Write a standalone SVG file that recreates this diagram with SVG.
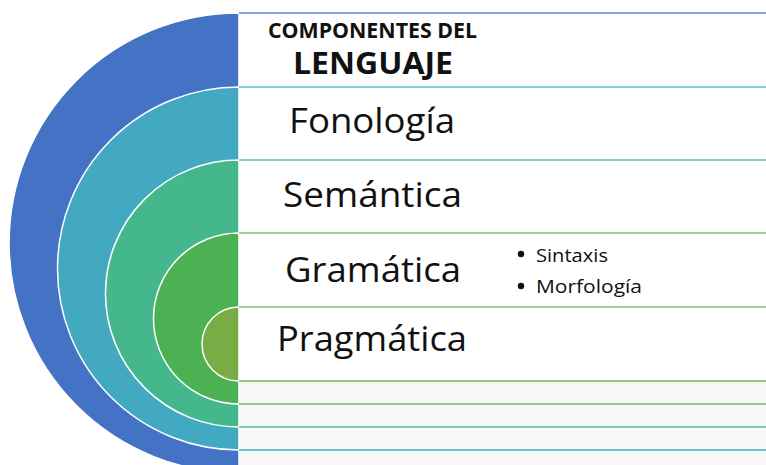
<svg xmlns="http://www.w3.org/2000/svg" width="766" height="465" viewBox="0 0 766 465">
<style>
.ring{stroke:#ffffff;stroke-width:1.5}
.ln{stroke-width:2;fill:none}
.t{font-family:"Open Sans","Noto Sans","Liberation Sans",sans-serif;fill:#111111}
.big{font-size:35px}
.sm{font-size:19px}
</style>
<rect x="0" y="0" width="766" height="465" fill="#ffffff"/>
<rect x="239" y="381" width="527" height="84" fill="#f8f8f8"/>
<g id="lenguaje">
<path class="ring" d="M239,13 A230,230 0 0 0 239,473 Z" fill="#4472C4"/>
<line class="ln" x1="239" y1="13" x2="766" y2="13" stroke="#8FA0DC"/>
<text class="t" x="268" y="38.3" font-size="22" font-weight="bold" textLength="209" lengthAdjust="spacingAndGlyphs">COMPONENTES DEL</text>
<text class="t" x="293" y="74.3" font-size="31" font-weight="bold" textLength="160" lengthAdjust="spacingAndGlyphs">LENGUAJE</text>
</g>
<g id="fonologia">
<path class="ring" d="M239,87 A181.5,181.5 0 0 0 239,450 Z" fill="#42A9C1"/>
<line class="ln" x1="239" y1="87" x2="766" y2="87" stroke="#7FCFDA"/>
<line class="ln" x1="239" y1="450" x2="766" y2="450" stroke="#6CC3D6"/>
<text class="t big" x="289" y="133.3" textLength="166" lengthAdjust="spacingAndGlyphs">Fonología</text>
</g>
<g id="semantica">
<path class="ring" d="M239,160 A133.5,133.5 0 0 0 239,427 Z" fill="#44B88C"/>
<line class="ln" x1="239" y1="160" x2="766" y2="160" stroke="#8BD3B5"/>
<line class="ln" x1="239" y1="427" x2="766" y2="427" stroke="#7ACDAB"/>
<text class="t" x="283" y="206.6" font-size="34" textLength="179" lengthAdjust="spacingAndGlyphs">Semántica</text>
</g>
<g id="gramatica">
<path class="ring" d="M239,233 A85.5,85.5 0 0 0 239,404 Z" fill="#4CB152"/>
<line class="ln" x1="239" y1="233" x2="766" y2="233" stroke="#98D49A"/>
<line class="ln" x1="239" y1="404" x2="766" y2="404" stroke="#88CC8C"/>
<text class="t big" x="285" y="281.6" textLength="176" lengthAdjust="spacingAndGlyphs">Gramática</text>
<circle cx="521" cy="254" r="3.2" fill="#111111"/>
<text class="t sm" x="536" y="262" textLength="72" lengthAdjust="spacingAndGlyphs">Sintaxis</text>
<circle cx="521" cy="286" r="3.2" fill="#111111"/>
<text class="t sm" x="536" y="293" textLength="106" lengthAdjust="spacingAndGlyphs">Morfología</text>
</g>
<g id="pragmatica">
<path class="ring" d="M239,307 A37,37 0 0 0 239,381 Z" fill="#78AC45"/>
<line class="ln" x1="239" y1="307" x2="766" y2="307" stroke="#A9CE8C"/>
<line class="ln" x1="239" y1="381" x2="766" y2="381" stroke="#9CC67C"/>
<text class="t big" x="277" y="351" textLength="190" lengthAdjust="spacingAndGlyphs">Pragmática</text>
</g>
<g id="connectors"></g>
</svg>
